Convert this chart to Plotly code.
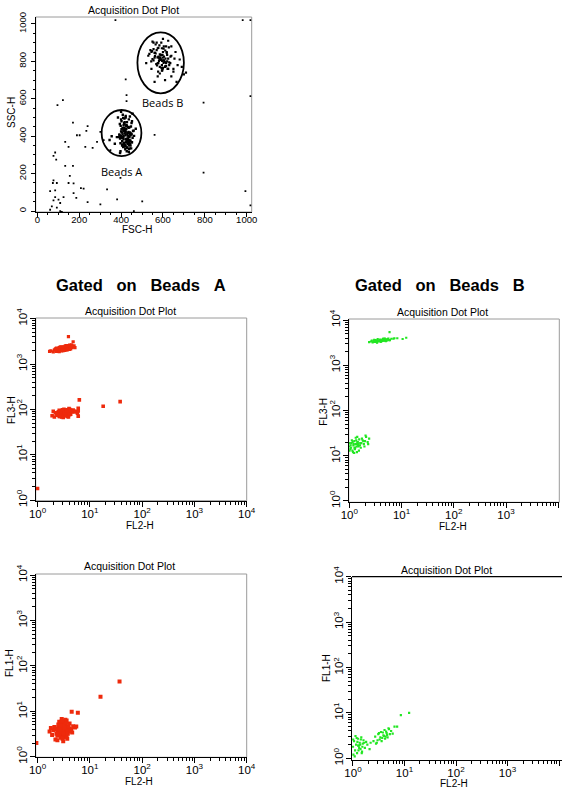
import plotly.graph_objects as go

W, H = 562, 790

# ---------------- Panel 1: FSC-H vs SSC-H (linear) ----------------
beadsA_fsc = [412,430,442,397,420,435,405,450,415,427,392,437,457,410,425,417,402,445,432,390,
              422,412,440,400,430,455,415,407,435,420,395,447,427,417,405,437,462,410,425,432,
              415,400,442,422,407,430,452,417,397,435,412,427,420,440,402,450,410,432,417,425,
              405,440,398,445,392,450,380,460,370,355,470,345,385,455,400,448,437,395,408,442,
              421,430,412,437,404,444,424,414,432,398,
              420,410,432,426,402,444,421,411,433,394,452,416,428,405,439,424,399,447,418,436,
              412,428,400,442,421,414,433,408,449,422]
beadsA_ssc = [400,385,420,362,440,398,350,410,465,372,405,330,428,390,455,345,480,376,418,395,
              500,360,447,425,338,392,470,410,365,435,388,452,320,415,373,490,402,342,460,380,
              430,397,358,508,444,412,368,475,320,423,383,456,347,395,437,368,498,403,352,440,
              420,380,455,350,410,470,395,430,360,400,440,380,500,520,530,335,315,310,515,505,
              405,378,428,352,392,412,366,446,388,402,
              330,345,360,375,390,405,420,435,450,465,480,495,340,355,370,385,400,415,430,445,
              460,475,490,335,350,365,380,395,410,425]
beadsB_fsc = [590,575,605,560,620,585,598,612,570,595,580,630,555,600,615,588,565,625,593,578,
              608,640,550,583,597,618,572,603,587,562,635,592,577,611,599,568,622,585,604,581,
              545,660,650,530,670,680,690,700,640,555,625,610,575,600,520,710,665,560,595,615,
              586,596,579,603,591,583,608,574,599,588,
              560,610,545,625,575,615,535,640,595,555,630,570,605,540,650,565,600,620,550,612,
              548,655,585,628,562,598,636,578,544,618]
beadsB_ssc = [810,790,825,845,800,770,835,815,860,780,820,795,805,850,775,830,842,815,765,872,
              798,830,812,885,752,845,778,868,808,828,790,900,745,858,820,785,760,838,880,802,
              760,850,760,830,780,810,770,730,720,900,910,700,720,920,790,740,690,690,870,880,
              818,803,826,792,835,812,798,821,806,815,
              820,770,850,760,870,790,840,880,750,865,780,900,805,860,745,890,765,835,905,775,
              855,815,735,875,845,760,825,790,800,850]
debris_fsc = [122,96,422,426,426,560,794,1018,1018,994,794,501,461,381,333,301,240,221,208,173,
              186,173,155,149,133,170,149,133,170,189,202,234,240,229,264,285,301,317,349,397,
              85,77,90,77,74,93,85,61,85,101,125,109,77,69,93,109,117,61,373,981,1018]
debris_ssc = [593,566,704,620,588,407,579,614,30,107,205,52,0,62,116,36,48,120,123,148,
              71,96,188,150,241,241,343,370,473,405,405,429,454,343,338,370,423,379,325,177,
              313,295,275,164,150,150,111,107,75,61,75,43,57,25,18,0,-4,7,1020,1020,1020]

gate_names = ["Beads A", "Beads B"]
gate_fsc_lo = [307, 478]
gate_fsc_hi = [497, 700]
gate_ssc_lo = [294, 629]
gate_ssc_hi = [540, 955]
gate_label_fsc = [402, 599]
gate_label_ssc = [212, 578]

lin_ticks = [0, 200, 400, 600, 800, 1000]
lin_ticktext = ["0", "200", "400", "600", "800", "1000"]

# ---------------- Gated on Beads A (red) ----------------
a_up_fl2 = [1.8,2.0,2.1,2.2,2.3,2.4,2.5,2.6,2.7,2.8,2.9,3.0,3.1,3.2,3.3,3.4,3.5,3.6,3.7,3.8,
            3.9,4.0,4.1,4.2,4.3,4.4,4.5,4.6,4.8,5.0,2.3,2.5,2.7,2.9,3.1,3.3,3.5,3.7,3.9,4.1,
            4.3,2.6,3.0,3.4,3.8,4.2,1.7,5.2,4.4,3.6,3.9,4.8,4.1,4.5]
a_up_fl3 = [1950,1850,2050,2150,1900,2200,2000,2300,2080,2400,2120,2250,1980,2380,2150,2300,2050,2450,2200,2350,
            2100,2500,2250,2400,2150,2550,2300,2450,2350,2500,2250,1900,2350,1950,2400,2000,2450,2050,2480,2100,
            2520,1880,2000,2500,2150,2200,1900,2300,2600,2550,4000,3100,2630,2630]
a_lo_fl2 = [1.9,2.1,2.3,2.4,2.5,2.6,2.7,2.8,2.9,3.0,3.1,3.2,3.3,3.4,3.5,3.6,3.7,3.8,3.9,4.0,
            4.1,4.2,4.4,4.6,4.8,5.0,2.2,2.5,2.8,3.1,3.4,3.7,4.0,4.3,2.6,2.9,3.2,3.5,3.8,4.1,
            4.5,2.4,2.7,3.0,3.3,3.6,3.9,4.2,5.3,5.8,6.0,2.0,6.0,6.0,6.3,18,38,1.0]
a_lo_fl3 = [72,68,80,74,88,70,82,76,92,72,86,78,95,74,88,80,98,77,90,84,
            100,82,94,88,96,92,84,76,90,66,96,70,104,78,95,68,100,72,86,76,
            90,78,70,98,84,92,68,96,88,82,92,90,105,71,162,117,148,1.8]
a_fl2 = [2.9,2.6,3.2,2.4,3.5,2.8,3.1,2.7,3.3,3.0,2.5,3.6,2.9,3.4,2.2,3.8,2.7,3.1,3.0,2.8,
         3.3,2.6,3.5,2.4,4.0,2.9,3.2,2.1,3.7,3.0,2.7,3.4,2.5,3.9,2.8,3.1,3.6,2.3,4.2,2.9,
         3.3,2.6,3.0,3.5,2.8,4.4,2.0,3.2,2.7,3.8,1.8,1.7,4.8,5.2,4.6,1.9,5.5,2.2,4.1,3.6,
         2.4,3.4,2.6,3.1,2.9,3.7,2.3,4.3,3.0,2.8,5.9,4.5,16,37,0.95]
a_fl1 = [3.9,4.3,3.5,3.7,4.1,3.2,4.6,3.0,3.8,5.0,4.4,3.4,2.8,4.8,4.0,3.9,5.3,3.1,4.2,3.6,
         5.5,3.3,4.5,2.9,4.2,5.8,2.7,4.5,3.6,3.4,4.9,3.0,5.1,4.7,2.6,5.2,2.9,4.1,3.8,6.0,
         4.4,3.9,2.5,5.6,3.6,4.0,3.8,3.3,5.7,3.2,4.3,3.6,4.7,4.4,3.4,3.0,4.6,2.4,5.4,6.3,
         2.3,6.5,5.9,2.2,6.8,2.5,3.2,3.6,6.2,4.8,9.3,9.8,21,45,2.0]

# ---------------- Gated on Beads B (green) ----------------
b_up_fl2 = [2.4,2.6,2.8,3.0,3.1,3.3,3.4,3.5,3.6,3.8,3.9,4.0,4.2,4.3,4.5,4.7,4.9,5.1,5.4,5.8,
            2.7,2.9,3.2,3.4,3.7,3.9,4.1,4.4,4.6,4.8,5.0,5.3,5.6,6.0,6.4,3.0,3.5,4.0,4.5,5.2,
            7.0,7.3,8.3,10.5,12.3,5.9]
b_up_fl3 = [3250,3350,3200,3400,3300,3450,3250,3500,3350,3550,3400,3600,3450,3650,3500,3700,3550,3650,3800,3600,
            3500,3300,3600,3150,3450,3700,3350,3800,3500,3900,3400,3700,3900,3600,3850,3650,3800,3300,3900,3500,
            3850,3950,3950,3800,4050,5400]
b_lo_fl2 = [1.00,1.05,1.10,1.15,1.20,1.25,1.30,1.35,1.40,1.45,1.50,1.55,1.60,1.70,1.80,1.90,2.00,2.10,2.25,2.40,
            1.02,1.08,1.12,1.18,1.22,1.28,1.33,1.38,1.43,1.48,1.53,1.62,1.75,1.85,1.95,2.05,2.30,1.06,1.16,1.26,
            1.36,1.46,1.01,1.24,1.42,1.66]
b_lo_fl3 = [16,14,19,13,17,21,15,18,12,20,16,23,17,19,22,18,21,26,20,24,
            19,15,22,12,18,14,25,16,20,17,13,19,24,21,16,28,18,17,20,15,
            22,18,13,11.5,26,15]
b_fl2 = [1.00,1.05,1.10,1.15,1.20,1.25,1.30,1.35,1.40,1.45,1.50,1.55,1.60,1.70,1.80,1.90,1.02,1.12,1.22,1.32,
         1.42,1.52,1.65,1.08,1.18,1.28,1.38,1.48,1.01,1.26,
         2.5,2.7,2.9,3.1,3.3,3.5,3.7,3.9,4.1,4.3,4.5,4.7,4.9,5.2,5.5,5.9,6.4,3.0,3.4,3.8,4.2,4.6,5.0,3.6,4.0,4.4,2.8,3.2,
         7.2,8.5,12.3,2.1,2.2]
b_fl1 = [1.8,2.4,1.5,2.0,1.3,2.7,1.9,2.2,1.6,2.9,1.4,2.1,2.5,1.7,2.3,2.0,1.2,3.1,2.3,1.7,
         2.6,1.8,2.2,1.1,2.8,1.5,2.0,1.3,2.6,1.9,
         2.4,3.0,2.2,3.4,2.6,3.8,2.8,3.2,4.2,3.0,3.6,2.9,4.6,3.4,4.0,3.5,5.0,2.5,2.9,3.7,2.7,3.3,4.4,2.4,3.1,3.9,2.1,3.6,
         5.0,8.9,10.0,1.6,2.2]

log_ticks = [1, 10, 100, 1000, 10000]
log_ticktext = ["10<sup>0</sup>", "10<sup>1</sup>", "10<sup>2</sup>", "10<sup>3</sup>", "10<sup>4</sup>"]
log_minor = [m * d for d in [1, 10, 100, 1000] for m in range(2, 10)]

RED = "#ee2a0c"
GREEN = "#22e622"
FONT = "Liberation Sans, Arial, sans-serif"


def xd(a, b):
    return [a / W, b / W]


def yd(top, bottom):
    return [1 - bottom / H, 1 - top / H]


fig = go.Figure()

# Panel 1 traces
fig.add_trace(go.Scatter(x=debris_fsc, y=debris_ssc, mode="markers", xaxis="x", yaxis="y",
                         marker=dict(color="black", size=1.8, symbol="square")))
fig.add_trace(go.Scatter(x=beadsA_fsc, y=beadsA_ssc, mode="markers", xaxis="x", yaxis="y",
                         marker=dict(color="black", size=2.4, symbol="square")))
fig.add_trace(go.Scatter(x=beadsB_fsc, y=beadsB_ssc, mode="markers", xaxis="x", yaxis="y",
                         marker=dict(color="black", size=2.2, symbol="square")))

# Panel 2 (FL3 vs FL2, beads A)
fig.add_trace(go.Scatter(x=a_up_fl2, y=a_up_fl3, mode="markers", xaxis="x2", yaxis="y2",
                         marker=dict(color=RED, size=3.2, symbol="square")))
fig.add_trace(go.Scatter(x=a_lo_fl2, y=a_lo_fl3, mode="markers", xaxis="x2", yaxis="y2",
                         marker=dict(color=RED, size=3.6, symbol="square")))
# Panel 3 (FL3 vs FL2, beads B)
fig.add_trace(go.Scatter(x=b_up_fl2, y=b_up_fl3, mode="markers", xaxis="x3", yaxis="y3",
                         marker=dict(color=GREEN, size=2.2, symbol="square")))
fig.add_trace(go.Scatter(x=b_lo_fl2, y=b_lo_fl3, mode="markers", xaxis="x3", yaxis="y3",
                         marker=dict(color=GREEN, size=2.2, symbol="square")))
# Panel 4 (FL1 vs FL2, beads A)
fig.add_trace(go.Scatter(x=a_fl2, y=a_fl1, mode="markers", xaxis="x4", yaxis="y4",
                         marker=dict(color=RED, size=4, symbol="square")))
# Panel 5 (FL1 vs FL2, beads B)
fig.add_trace(go.Scatter(x=b_fl2, y=b_fl1, mode="markers", xaxis="x5", yaxis="y5",
                         marker=dict(color=GREEN, size=2.2, symbol="square")))

common = dict(showgrid=False, zeroline=False, showline=True, linecolor="black", linewidth=1,
              ticks="outside", tickcolor="black", tickwidth=1, automargin=False,
              tickfont=dict(family=FONT, size=10, color="black"))


def lin_axis(domain, rng, anchor, is_y=False):
    d = dict(common, domain=domain, range=rng, anchor=anchor, tickmode="array",
             tickvals=lin_ticks, ticktext=lin_ticktext, ticklen=4,
             tickfont=dict(family=FONT, size=9.5, color="black"),
             minor=dict(tickmode="linear", tick0=0, dtick=50, ticks="outside", ticklen=2,
                        tickcolor="black", showgrid=False))
    if is_y:
        d["tickangle"] = -90
        d["ticklabelstandoff"] = 1
    else:
        d["ticklabelstandoff"] = -5
    return d


def log_axis(domain, rng, anchor, is_y=False):
    d = dict(common, type="log", domain=domain, range=rng, anchor=anchor, tickmode="array",
             tickvals=log_ticks, ticktext=log_ticktext, ticklen=5,
             tickfont=dict(family=FONT, size=11.5, color="black"),
             minor=dict(tickmode="array", tickvals=log_minor, ticks="outside", ticklen=3,
                        tickcolor="black", showgrid=False))
    if is_y:
        d["tickangle"] = -90
        d["ticklabelstandoff"] = -2
    else:
        d["ticklabelstandoff"] = -3
    return d


fig.update_layout(
    template="none",
    width=W, height=H, margin=dict(l=0, r=0, t=0, b=0, pad=0, autoexpand=False),
    paper_bgcolor="white", plot_bgcolor="white", showlegend=False,
    xaxis=lin_axis(xd(35.7, 251.7), [-8, 1024], "y"),
    yaxis=lin_axis(yd(17, 212), [-5, 1037], "x", True),
    xaxis2=log_axis(xd(35.7, 246.7), [-0.035, 4.0], "y2"),
    yaxis2=log_axis(yd(318, 500.7), [-0.015, 4.015], "x2", True),
    xaxis3=log_axis(xd(348.7, 559.3), [-0.011, 4.02], "y3"),
    yaxis3=log_axis(yd(319, 502.3), [-0.029, 4.022], "x3", True),
    xaxis4=log_axis(xd(35.7, 246.7), [-0.035, 4.0], "y4"),
    yaxis4=log_axis(yd(574, 757.3), [-0.013, 4.022], "x4", True),
    xaxis5=log_axis(xd(352, 562), [-0.019, 4.058], "y5"),
    yaxis5=log_axis(yd(576.7, 760), [-0.037, 4.0], "x5", True),
)

shapes = []
# thin grey frames (top/right) for panels 1-4
for ax in ["", "2", "3", "4"]:
    shapes.append(dict(type="rect", xref="x%s domain" % ax, yref="y%s domain" % ax,
                       x0=0, x1=1, y0=0, y1=1, line=dict(color="#9a9a9a", width=1), layer="below"))
# panel 5: black top line
shapes.append(dict(type="line", xref="x5 domain", yref="y5 domain", x0=0, x1=1, y0=1, y1=1,
                   line=dict(color="black", width=1.2)))
# gates
for i in range(len(gate_names)):
    shapes.append(dict(type="circle", xref="x", yref="y",
                       x0=gate_fsc_lo[i], x1=gate_fsc_hi[i], y0=gate_ssc_lo[i], y1=gate_ssc_hi[i],
                       line=dict(color="black", width=1.8)))
fig.update_layout(shapes=shapes)

ann = []


def pann(text, px, py, size=10.5, angle=0, family=FONT, bold=False):
    ann.append(dict(text=("<b>%s</b>" % text) if bold else text, xref="paper", yref="paper",
                    x=px / W, y=1 - py / H, xanchor="center", yanchor="middle", showarrow=False,
                    textangle=angle, font=dict(family=family, size=size, color="black")))


# panel titles
pann("Acquisition Dot Plot", 133.5, 10)
pann("Acquisition Dot Plot", 130, 311)
pann("Acquisition Dot Plot", 442, 312)
pann("Acquisition Dot Plot", 129, 566)
pann("Acquisition Dot Plot", 446, 569.5)
# axis titles
pann("FSC-H", 137, 229, size=10)
pann("SSC-H", 12, 113, size=10, angle=-90)
pann("FL2-H", 140, 525, size=10)
pann("FL3-H", 11, 410, size=10, angle=-90)
pann("FL2-H", 453, 526, size=10)
pann("FL3-H", 322.7, 412, size=10, angle=-90)
pann("FL2-H", 139, 781, size=10)
pann("FL1-H", 9, 663, size=10, angle=-90)
pann("FL2-H", 454, 783, size=10)
pann("FL1-H", 326, 668, size=10, angle=-90)
# headings
NB = "\u00a0"
pann("Gated%son%sBeads%sA" % (NB * 3, NB * 3, NB * 3), 141, 285, size=16.5,
     family="Liberation Sans, Arial, sans-serif", bold=True)
pann("Gated%son%sBeads%sB" % (NB * 3, NB * 3, NB * 3), 440, 285, size=16.5,
     family="Liberation Sans, Arial, sans-serif", bold=True)

# gate labels
for i in range(len(gate_names)):
    ann.append(dict(text=gate_names[i], xref="x", yref="y", x=gate_label_fsc[i], y=gate_label_ssc[i],
                    xanchor="center", yanchor="middle", showarrow=False,
                    font=dict(family="Open Sans, sans-serif", size=11, color="black")))

fig.update_layout(annotations=ann)

fig.write_html("out.html", config={"displayModeBar": False},
               post_script="document.body.style.margin='0px';document.body.style.overflow='hidden';")
